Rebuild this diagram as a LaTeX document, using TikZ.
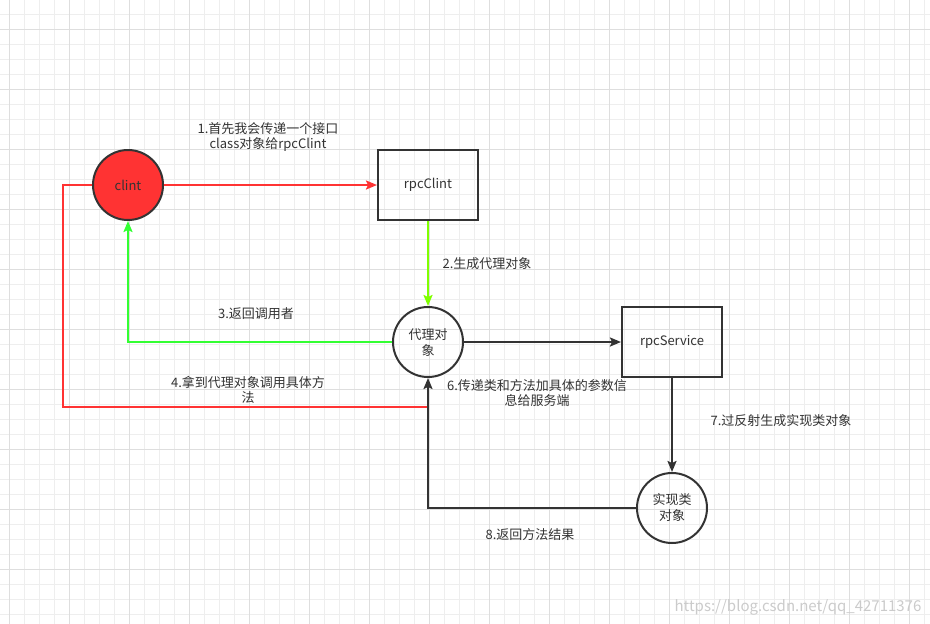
\documentclass[tikz,border=0pt]{standalone}
\usepackage{fontspec}
\setmainfont{Noto Sans CJK SC}
\usetikzlibrary{%
  arrows.meta,
  calc
}

\definecolor{linegray}{HTML}{333333}
\definecolor{clintred}{HTML}{FF3333}
\definecolor{backgreen}{HTML}{33FF33}
\definecolor{limegreen}{HTML}{80FF00}
\definecolor{gridminor}{HTML}{EEEEEE}
\definecolor{gridmajor}{HTML}{DEDEDE}

\tikzset{
  obj/.style={circle,draw=linegray,line width=2pt,minimum size=70pt,inner sep=0pt,
    align=center,text=linegray,font=\fontsize{13}{16}\selectfont},
  box/.style={rectangle,draw=linegray,line width=2pt,minimum width=100pt,minimum height=70pt,
    text=linegray,font=\fontsize{13}{16}\selectfont},
  lbl/.style={align=center,text=linegray,inner sep=0pt,font=\fontsize{13}{15.5}\selectfont},
  conn/.style={line width=2pt,-{Stealth[length=11pt,width=9pt,inset=2pt]}}
}

\begin{document}
\begin{tikzpicture}[x=1pt, y=-1pt]
    \useasboundingbox (0,0) rectangle (930,624);
    \fill[white] (0,0) rectangle (930,624);

    % grid paper
    \foreach \i in {0,...,61} \draw[gridminor, line width=1pt] (9+15*\i,0) -- (9+15*\i,624);
    \foreach \j in {1,...,41} \draw[gridminor, line width=1pt] (0,-1+15*\j) -- (930,-1+15*\j);
    \foreach \i in {0,...,15} \draw[gridmajor, line width=1pt] (9+60*\i,0) -- (9+60*\i,624);
    \foreach \j in {0,...,9} \draw[gridmajor, line width=1pt] (0,29+60*\j) -- (930,29+60*\j);

    \node[obj, fill=clintred] (clint) at (128,185) {clint};
    \node[box] (rpcclint) at (428,185) {rpcClint};
    \node[obj] (proxy) at (428,342) {代理对\\象};
    \node[box] (rpcservice) at (672,342) {rpcService};
    \node[obj] (impl) at (672,508) {实现类\\对象};

    \coordinate (redcorner) at (63,185);
    \coordinate (redend) at (428,407);

    \draw[conn, clintred] (clint) -- (rpcclint);
    \draw[conn, limegreen] (rpcclint) -- (proxy);
    \draw[conn, backgreen] (proxy.west) -| (clint.south);
    \draw[line width=2pt, clintred] (clint.west) -- (redcorner) |- (redend);
    \draw[conn, linegray] (proxy) -- (rpcservice);
    \draw[conn, linegray] (rpcservice) -- (impl);
    \draw[conn, linegray] (impl.west) -| (proxy.south);

    \node[lbl] (step1) at (268,137) {1.首先我会传递一个接口\\class对象给rpcClint};
    \node[lbl] (step2) at (487,264) {2.生成代理对象};
    \node[lbl] (step3) at (256,314) {3.返回调用者};
    \node[lbl] (step4) at (248,390) {4.拿到代理对象调用具体方\\法};
    \node[lbl] (step6) at (537,393) {6.传递类和方法加具体的参数信\\息给服务端};
    \node[lbl] (step7) at (781,421) {7.过反射生成实现类对象};
    \node[lbl] (step8) at (530,535) {8.返回方法结果};

    \node[text=gridmajor!80!gray, font=\fontsize{15}{18}\selectfont, inner sep=0pt] (mark) at (798,607) {https://blog.csdn.net/qq\_42711376};

\end{tikzpicture}
\end{document}
